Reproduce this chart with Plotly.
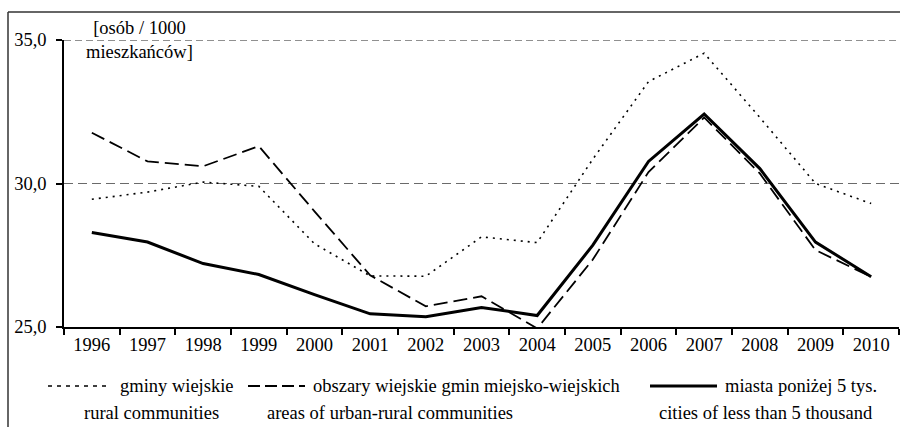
import plotly.graph_objects as go

years = ["1996", "1997", "1998", "1999", "2000", "2001", "2002", "2003",
         "2004", "2005", "2006", "2007", "2008", "2009", "2010"]
gminy_wiejskie = [29.45, 29.7, 30.05, 29.9, 27.9, 26.78, 26.77, 28.14,
                  27.94, 30.85, 33.55, 34.54, 32.3, 30.0, 29.3]
obszary_wiejskie = [31.77, 30.77, 30.6, 31.3, 29.03, 26.8, 25.72, 26.07,
                    24.95, 27.35, 30.4, 32.3, 30.35, 27.68, 26.75]
miasta = [28.29, 27.96, 27.21, 26.83, 26.13, 25.46, 25.36, 25.68,
          25.4, 27.85, 30.77, 32.42, 30.52, 27.96, 26.75]
y_ticks = [25, 30, 35]
y_tick_labels = ["25,0", "30,0", "35,0"]
grid_values = [30, 35]

legend_pl = ["gminy wiejskie", "obszary wiejskie gmin miejsko-wiejskich", "miasta poniżej 5 tys."]
legend_en = ["rural communities", "areas of urban-rural communities", "cities of less than 5 thousand"]

FONT = "Liberation Serif, Times New Roman, serif"
FS = 18.5
W, H = 900, 427
L, R, T, B = 64, 1, 40, 100
PW, PH = W - L - R, H - T - B


def px_x(px):
    return (px - L) / PW


def px_y(py):
    return (H - B - py) / PH


fig = go.Figure()
fig.add_trace(go.Scatter(x=years, y=gminy_wiejskie, mode="lines",
                         line=dict(color="black", width=1.6, dash="2px,5px"),
                         showlegend=False))
fig.add_trace(go.Scatter(x=years, y=obszary_wiejskie, mode="lines",
                         line=dict(color="black", width=1.8, dash="14px,6px"),
                         showlegend=False))
fig.add_trace(go.Scatter(x=years, y=miasta, mode="lines",
                         line=dict(color="black", width=3),
                         showlegend=False))

shapes = []
# dashed horizontal gridlines
grid_styles = {30: ("#6a6a6a", "9px,5px"), 35: ("#222222", "7px,4px")}
for gv in grid_values:
    col, dsh = grid_styles[gv]
    shapes.append(dict(type="line", xref="paper", yref="y", x0=0, x1=1, y0=gv, y1=gv,
                       layer="below", line=dict(color=col, width=1.2, dash=dsh)))
# outer frame (left and top)
shapes.append(dict(type="line", xref="paper", yref="paper",
                   x0=px_x(8), x1=px_x(8), y0=px_y(12), y1=px_y(440),
                   line=dict(color="#333", width=1.5)))
shapes.append(dict(type="line", xref="paper", yref="paper",
                   x0=px_x(8), x1=px_x(905), y0=px_y(12), y1=px_y(12),
                   line=dict(color="#333", width=1.5)))

annotations = []
annotations.append(dict(text="[osób / 1000<br>mieszkańców]", xref="paper", yref="paper",
                        x=px_x(139), y=px_y(40), xanchor="center", yanchor="middle",
                        showarrow=False, align="center",
                        font=dict(family=FONT, size=FS, color="black")))

row1 = 386
row2 = 413
samples = [(48, 110, "4px,5px", 1.6), (248, 305, "12px,5px", 1.8), (650, 717, "solid", 3)]
text_x = [118, 311, 723]
row2_center = [151, 390, 766]
for i in range(3):
    x0, x1, dash, w = samples[i]
    shapes.append(dict(type="line", xref="paper", yref="paper",
                       x0=px_x(x0), x1=px_x(x1), y0=px_y(row1), y1=px_y(row1),
                       line=dict(color="black", width=w, dash=dash)))
    annotations.append(dict(text=legend_pl[i], xref="paper", yref="paper",
                            x=px_x(text_x[i]), y=px_y(row1), xanchor="left", yanchor="middle",
                            showarrow=False, font=dict(family=FONT, size=FS, color="black")))
    annotations.append(dict(text=legend_en[i], xref="paper", yref="paper",
                            x=px_x(row2_center[i]), y=px_y(row2), xanchor="center", yanchor="middle",
                            showarrow=False, font=dict(family=FONT, size=FS, color="black")))

fig.update_layout(
    width=W, height=H,
    margin=dict(l=L, r=R, t=T, b=B, pad=0),
    paper_bgcolor="white", plot_bgcolor="white",
    font=dict(family=FONT, size=FS, color="black"),
    shapes=shapes, annotations=annotations,
    showlegend=False,
)
fig.update_xaxes(type="category", tickson="boundaries", ticks="outside", ticklen=6,
                 tickwidth=1.5, tickcolor="black", showline=True, linecolor="black",
                 linewidth=1.5, showgrid=False, zeroline=False,
                 tickfont=dict(family=FONT, size=FS, color="black"),
                 range=[-0.5, 14.5])
fig.update_yaxes(range=[25, 35], tickvals=y_ticks, ticktext=y_tick_labels,
                 ticks="outside", ticklen=6, tickwidth=1.5, tickcolor="black",
                 showline=True, linecolor="black", linewidth=1.5,
                 showgrid=False, zeroline=False, ticklabelstandoff=6,
                 tickfont=dict(family=FONT, size=FS, color="black"))

fig.write_html("out.html", config={"displayModeBar": False},
               post_script="document.body.style.margin='0';document.body.style.overflow='hidden';")
